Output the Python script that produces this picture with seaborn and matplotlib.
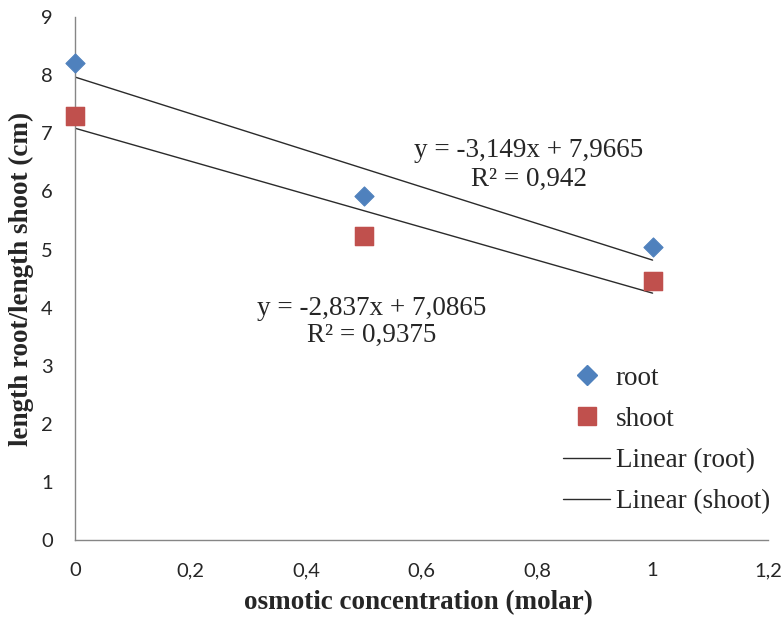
import numpy as np
import pandas as pd
import matplotlib
matplotlib.use("Agg")
import matplotlib.pyplot as plt
import seaborn as sns
from matplotlib.lines import Line2D

# data
conc = [0, 0.5, 1]
root = [8.2, 5.925, 5.051]
shoot = [7.30, 5.24, 4.463]
x_ticks = [0, 0.2, 0.4, 0.6, 0.8, 1.0, 1.2]
x_tick_labels = ["0", "0,2", "0,4", "0,6", "0,8", "1", "1,2"]
y_ticks = [0, 1, 2, 3, 4, 5, 6, 7, 8, 9]
eq_root = ["y = -3,149x + 7,9665", "R² = 0,942"]
eq_shoot = ["y = -2,837x + 7,0865", "R² = 0,9375"]
legend_labels = ["root", "shoot", "Linear (root)", "Linear (shoot)"]

df = pd.DataFrame({"conc": conc, "root": root, "shoot": shoot})

sns.set_style("white")
serif = "Liberation Serif"
sans = "Lato"

fig = plt.figure(figsize=(7.84, 6.18), dpi=100)
ax = fig.add_axes([0.0957, 0.126, 0.884, 0.8465])

blue = "#4F81BD"
red = "#C0504D"
line_col = "#2b2b2b"

# trend lines (linear fits)
sns.regplot(data=df, x="conc", y="root", scatter=False, ci=None, truncate=True,
            line_kws={"color": line_col, "lw": 1.0}, ax=ax)
sns.regplot(data=df, x="conc", y="shoot", scatter=False, ci=None, truncate=True,
            line_kws={"color": line_col, "lw": 1.0}, ax=ax)

# points
sns.scatterplot(data=df, x="conc", y="root", marker="D", s=95, color=blue,
                edgecolor=blue, ax=ax, zorder=5, clip_on=False)
sns.scatterplot(data=df, x="conc", y="shoot", marker="s", s=180, color=red,
                edgecolor=red, ax=ax, zorder=5, clip_on=False)

ax.set_xlim(0, 1.2)
ax.set_ylim(0, 9)
ax.set_xticks(x_ticks)
ax.set_xticklabels(x_tick_labels)
ax.set_yticks(y_ticks)

for s in ["top", "right"]:
    ax.spines[s].set_visible(False)
for s in ["left", "bottom"]:
    ax.spines[s].set_color("#868686")
    ax.spines[s].set_linewidth(1.0)
ax.tick_params(axis="both", direction="out", length=5, width=1.0,
               color="#868686", labelsize=14.5, pad=11)
for lab in ax.get_xticklabels() + ax.get_yticklabels():
    lab.set_fontfamily(sans)
    lab.set_color("#262626")

ax.set_xlabel("osmotic concentration (molar)", fontfamily=serif,
              fontweight="bold", fontsize=19.5)
ax.set_ylabel("length root/length shoot (cm)", fontfamily=serif,
              fontweight="bold", fontsize=19.5)
ax.xaxis.label.set_va("center")
ax.yaxis.label.set_va("center")
ax.xaxis.set_label_coords(0.495, -0.119)
ax.yaxis.set_label_coords(-0.078, 0.5)

# equations
ax.text(0.786, 6.71, eq_root[0], ha="center", va="center", fontfamily=serif, fontsize=19.5)
ax.text(0.786, 6.20, eq_root[1], ha="center", va="center", fontfamily=serif, fontsize=19.5)
ax.text(0.513, 3.99, eq_shoot[0], ha="center", va="center", fontfamily=serif, fontsize=19.5)
ax.text(0.513, 3.53, eq_shoot[1], ha="center", va="center", fontfamily=serif, fontsize=19.5)

handles = [
    Line2D([], [], marker="D", color=blue, ls="none", markersize=9.7),
    Line2D([], [], marker="s", color=red, ls="none", markersize=13.4),
    Line2D([], [], color=line_col, lw=1.0),
    Line2D([], [], color=line_col, lw=1.0),
]
ax.legend(handles, legend_labels, loc="center left", bbox_to_anchor=(563 / 784, 1 - 440 / 618),
          bbox_transform=fig.transFigure, borderpad=0, borderaxespad=0,
          frameon=False, prop={"family": serif, "size": 19.5},
          handlelength=1.75, handletextpad=0.2, labelspacing=0.6)

fig.savefig("out.png", dpi=100)
